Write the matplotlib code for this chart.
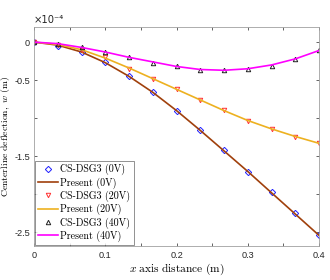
import matplotlib
matplotlib.use("Agg")
import matplotlib.pyplot as plt

plt.rcParams["mathtext.fontset"] = "cm"
plt.rcParams["font.family"] = ["Liberation Sans", "DejaVu Sans"]

# x positions (m) of the sampled points
x = [0.0, 0.0333, 0.0667, 0.1, 0.1333, 0.1667, 0.2, 0.2333, 0.2667, 0.3, 0.3333, 0.3667, 0.4]

# deflection in units of 1e-4 m
dsg_0v = [0.0, -0.05, -0.13, -0.26, -0.45, -0.66, -0.90, -1.15, -1.42, -1.70, -1.97, -2.25, -2.54]
dsg_20v = [0.0, -0.04, -0.10, -0.20, -0.35, -0.48, -0.62, -0.76, -0.89, -1.03, -1.14, -1.24, -1.33]
dsg_40v = [0.0, -0.02, -0.07, -0.13, -0.20, -0.27, -0.32, -0.36, -0.37, -0.35, -0.31, -0.22, -0.11]

present_0v = [0.0, -0.04, -0.13, -0.27, -0.45, -0.66, -0.90, -1.16, -1.43, -1.70, -1.98, -2.26, -2.54]
present_20v = [0.0, -0.03, -0.10, -0.21, -0.34, -0.48, -0.62, -0.76, -0.90, -1.03, -1.14, -1.24, -1.33]
present_40v = [0.0, -0.02, -0.07, -0.13, -0.20, -0.26, -0.32, -0.36, -0.37, -0.35, -0.30, -0.22, -0.11]

xticks = [0, 0.05, 0.1, 0.15, 0.2, 0.25, 0.3, 0.35, 0.4]
xticklabels = ["0", "", "0.1", "", "0.2", "", "0.3", "", "0.4"]
yticks = [0, -0.5, -1.0, -1.5, -2.0, -2.5]
yticklabels = ["0", "-0.5", "", "-1.5", "", "-2.5"]

fig = plt.figure(figsize=(3.3, 2.8), dpi=100)
ax = fig.add_axes([0.103, 0.121, 0.864, 0.783])

mk = dict(linestyle="none", markersize=3.2, markerfacecolor="none", markeredgewidth=0.7)
ax.plot(x, dsg_0v, marker="D", color="#1f1fff", label="CS-DSG3 (0V)", **mk)
ax.plot(x, present_0v, color="#a0400c", lw=1.2, label="Present (0V)")
ax.plot(x, dsg_20v, marker="v", color="#ff3030", label="CS-DSG3 (20V)", **mk)
ax.plot(x, present_20v, color="#edb120", lw=1.2, label="Present (20V)")
ax.plot(x, dsg_40v, marker="^", color="#202020", label="CS-DSG3 (40V)", **mk)
ax.plot(x, present_40v, color="#ff00ff", lw=1.2, label="Present (40V)")

ax.set_xlim(0, 0.4)
ax.set_ylim(-2.68, 0.2)
ax.set_xticks(xticks)
ax.set_xticklabels(xticklabels)
ax.set_yticks(yticks)
ax.set_yticklabels(yticklabels)
ax.tick_params(labelsize=6.6, length=2.5, width=0.5, colors="#262626", direction="in",
               top=True, right=True, pad=3.5)
ax.tick_params(axis="y", pad=2.8)
for s in ax.spines.values():
    s.set_color("#a0a0a0")
    s.set_linewidth(0.6)

ax.text(0.0, 1.01, "×10⁻⁴", transform=ax.transAxes, fontsize=7.2,
        color="#262626", ha="left", va="bottom", family="DejaVu Sans")
ax.set_xlabel(r"$x\ \mathrm{axis\ distance\ (m)}$", fontsize=8.2, labelpad=1)
ax.set_ylabel(r"$\mathrm{Centerline\ deflection,}\ w\ \mathrm{(m)}$", fontsize=7.0)
ax.yaxis.set_label_coords(-0.078, 0.5)

leg = ax.legend(loc="lower left", prop={"family": "cmr10", "size": 7.2},
                handlelength=2.0, handletextpad=0.25, borderaxespad=0.1, labelspacing=0.2,
                fancybox=False, borderpad=0.3)
leg.get_frame().set_edgecolor("#404040")
leg.get_frame().set_linewidth(0.5)

fig.savefig("out.png", dpi=100)
